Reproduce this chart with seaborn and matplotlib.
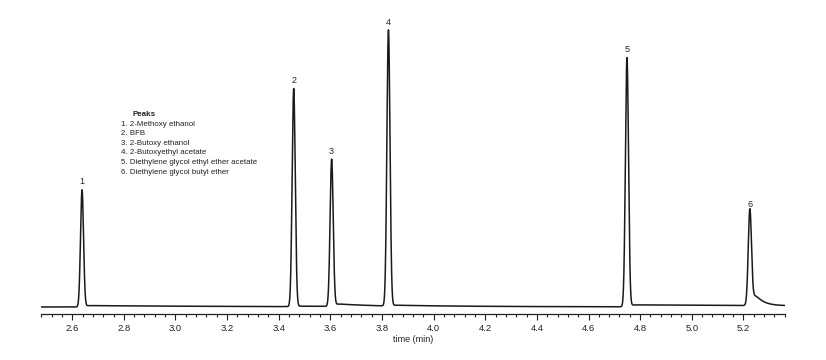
import numpy as np
import matplotlib
matplotlib.use("Agg")
import matplotlib.pyplot as plt
import seaborn as sns
from matplotlib.ticker import MultipleLocator

# ----- Peak table -----
peak_labels = ["1", "2", "3", "4", "5", "6"]
peak_names = [
    "2-Methoxy ethanol",
    "BFB",
    "2-Butoxy ethanol",
    "2-Butoxyethyl acetate",
    "Diethylene glycol ethyl ether acetate",
    "Diethylene glycol butyl ether",
]
peak_times = [2.638, 3.458, 3.605, 3.825, 4.749, 5.225]   # min
peak_heights = [117, 218, 147, 276, 249, 94]               # detector response (a.u.)
peak_sigmas = [0.0058, 0.006, 0.006, 0.006, 0.006, 0.0062]
tail_heights = [1.5, 0.5, 3.0, 1.0, 2.0, 24.0]
tail_taus = [0.6, 0.3, 0.15, 0.5, 1.2, 0.03]
baseline_level = 7.0

x_min, x_max = 2.478, 5.36


def build_trace(t):
    y = np.full_like(t, baseline_level)
    for t0, h, s, th, tau in zip(peak_times, peak_heights, peak_sigmas,
                                 tail_heights, tail_taus):
        y += h * np.exp(-0.5 * ((t - t0) / s) ** 2)
        # smooth onset for the tailing part of the peak
        onset = 1.0 / (1.0 + np.exp(-(t - t0 - 2 * s) / s))
        y += th * onset * np.exp(-np.clip(t - t0, 0, None) / tau)
    return y


t = np.linspace(x_min, x_max, 20000)
signal = build_trace(t)

sns.set_style("white")
plt.rcParams["font.family"] = ["Liberation Sans", "DejaVu Sans"]

fig = plt.figure(figsize=(8.26, 3.6), dpi=100)
ax = fig.add_axes([0.0493, 0.1278, 0.9007, 0.8722])

sns.lineplot(x=t, y=signal, ax=ax, color="#1a1a1a", linewidth=1.1)

# peak numbers
for lab, t0, h in zip(peak_labels, peak_times, peak_heights):
    ax.text(t0, h + baseline_level + 4, lab, ha="center", va="bottom",
            fontsize=6.5, color="#222222")

# peak legend block
ax.text(0.1227, 0.634, "Peaks", transform=ax.transAxes, fontsize=5.8,
        fontweight="bold", color="#222222", va="center")
for i, name in enumerate(peak_names):
    ax.text(0.108, 0.605 - i * 0.0306, f"{i + 1}. {name}", transform=ax.transAxes,
            fontsize=5.7, color="#222222", va="center")

ax.set_xlim(x_min, x_max)
ax.set_ylim(0, 314)
ax.xaxis.set_major_locator(MultipleLocator(0.2))
ax.xaxis.set_minor_locator(MultipleLocator(0.04))
ax.tick_params(axis="x", which="major", direction="out", length=4, width=0.8,
               labelsize=6.8, colors="#222222", pad=3, bottom=True)
ax.tick_params(axis="x", which="minor", direction="out", length=2, width=0.8,
               bottom=True)
ax.set_yticks([])
ax.set_xlabel("time (min)", fontsize=6.5, color="#222222", labelpad=2)

sns.despine(ax=ax, left=True, top=True, right=True)
ax.spines["bottom"].set_color("#222222")
ax.spines["bottom"].set_linewidth(0.9)

fig.savefig("out.png", dpi=100)
